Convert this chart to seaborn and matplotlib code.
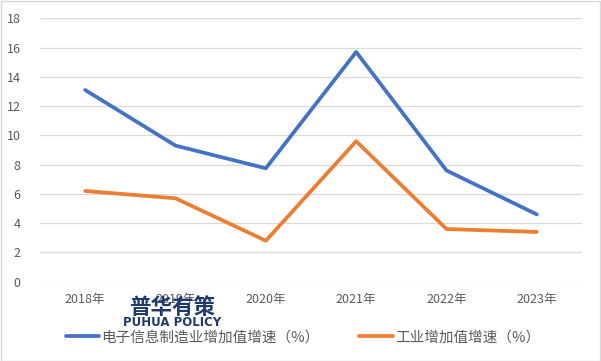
import matplotlib
matplotlib.use("Agg")
import matplotlib.pyplot as plt
import seaborn as sns
import pandas as pd
from matplotlib.patches import Rectangle
from matplotlib.lines import Line2D

years = ["2018年", "2019年", "2020年", "2021年", "2022年", "2023年"]
electronics = [13.1, 9.3, 7.75, 15.7, 7.6, 4.6]
industry = [6.2, 5.7, 2.8, 9.6, 3.6, 3.4]
series_names = ["电子信息制造业增加值增速（%）", "工业增加值增速（%）"]
colors = ["#4472C4", "#ED7D31"]
logo_cn = "普华有策"
logo_en = "PUHUA POLICY"

sns.set_theme(style="white")
plt.rcParams['font.family'] = ['Noto Sans CJK SC', 'DejaVu Sans']

df = pd.DataFrame({
    "value": electronics + industry,
    "series": [series_names[0]] * len(years) + [series_names[1]] * len(years),
})
df["x"] = list(range(len(years))) * 2

W, H = 601, 361
fig = plt.figure(figsize=(W / 100, H / 100), dpi=100)
ax = fig.add_axes([40 / W, (H - 281.7) / H, 542 / W, (281.7 - 18.3) / H])

sns.lineplot(data=df, x="x", y="value", hue="series", palette=colors,
             linewidth=2.7, ax=ax, legend=False, sort=False)

ax.set_xlim(-0.5, len(years) - 0.5)
ax.set_ylim(0, 18)
ax.set_yticks(range(0, 19, 2))
ax.set_xticks(range(len(years)))
ax.set_xticklabels(years)
ax.set_xlabel("")
ax.set_ylabel("")
ax.yaxis.grid(True, color="#D9D9D9", linewidth=0.9)
ax.set_axisbelow(True)
for s in ax.spines.values():
    s.set_visible(False)
ax.tick_params(axis="both", length=0, labelsize=9, colors="#595959", pad=8)
ax.tick_params(axis="y", pad=14)

# legend
handles = [Line2D([0], [0], color=c, lw=2.7) for c in colors]
fig.legend(handles, series_names, loc="center", bbox_to_anchor=(303 / W, 1 - 337.5 / H),
           ncol=2, frameon=False, fontsize=10.5, handlelength=2.3, handletextpad=0.15,
           columnspacing=2.7, labelcolor="#595959")

# watermark logo
logo_color = "#1E3A6C"
fig.text(172 / W, 1 - 307 / H, logo_cn, ha="center", va="center",
         fontsize=15.5, fontweight="bold", color=logo_color)
fig.text(172 / W, 1 - 323 / H, logo_en, ha="center", va="center",
         fontsize=8.5, fontweight="bold", color=logo_color, family="DejaVu Sans")

# figure border
fig.patches.append(Rectangle((0.001, 0.001), 0.997, 0.996, transform=fig.transFigure,
                             fill=False, edgecolor="#D9D9D9", linewidth=1))

fig.savefig("out.png", dpi=100)
